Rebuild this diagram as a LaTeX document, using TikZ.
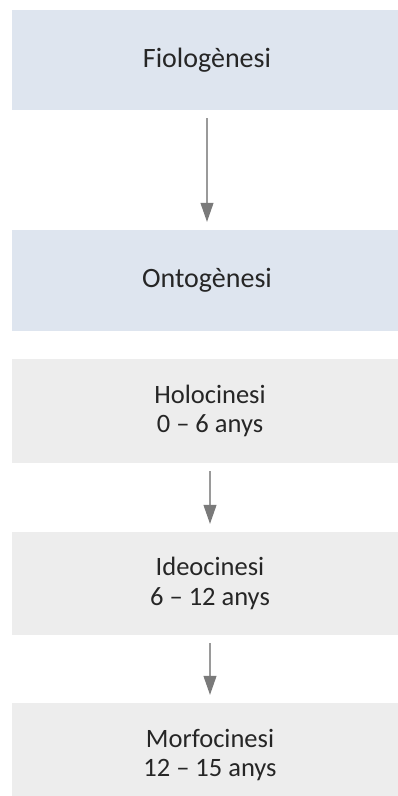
\documentclass[tikz,border=0pt]{standalone}
\usepackage{fontspec}
\setmainfont{Carlito}
\usetikzlibrary{arrows.meta}
\definecolor{phasefill}{HTML}{DEE5EF}
\definecolor{stagefill}{HTML}{EDEDED}
\definecolor{linkgray}{HTML}{9A9A9A}
\definecolor{tipgray}{HTML}{7A7A7A}
\definecolor{inktext}{HTML}{262626}
\tikzset{
  phasebox/.style={rectangle, fill=phasefill, minimum width=390pt, minimum height=100pt,
    inner sep=0pt, text=inktext, font=\fontsize{28}{34}\selectfont, align=center},
  stagebox/.style={rectangle, fill=stagefill, minimum width=396pt, minimum height=104pt,
    inner sep=0pt, text=inktext, font=\fontsize{26.5}{29.5}\selectfont, align=center},
  link/.style={draw=linkgray, line width=1.1pt,
    -{Triangle[width=13pt,length=19pt,fill=tipgray,color=tipgray]},
    shorten <=8pt, shorten >=8pt}
}
\begin{document}
\begin{tikzpicture}[x=1pt,y=-1pt]
  \clip (0,0) rectangle (398,796);
  \fill[white] (0,0) rectangle (398,796);
  % two upper phases
  \node[phasebox] (filo) at (207,60) {Fiologènesi};
  \node[phasebox, minimum height=101pt] (onto) at (207,280.5) {Ontogènesi};
  % stages of development
  \node[stagebox] (holo) at (210,411) {Holocinesi\\0 – 6 anys};
  \node[stagebox, minimum height=103pt] (ideo) at (210,583.5) {Ideocinesi\\6 – 12 anys};
  \node[stagebox] (morf) at (210,755) {Morfocinesi\\12 – 15 anys};
  % connectors
  \draw[link] (filo.south) -- (onto.north);
  \draw[link] (holo.south) -- (ideo.north);
  \draw[link] (ideo.south) -- (morf.north);
\end{tikzpicture}
\end{document}
